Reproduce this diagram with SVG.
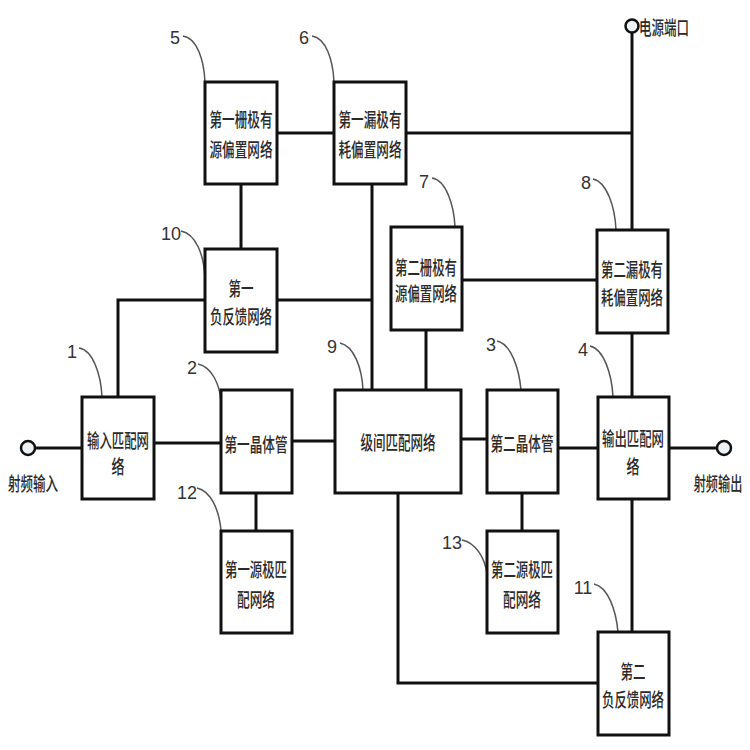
<svg xmlns="http://www.w3.org/2000/svg" width="750" height="750" viewBox="0 0 750 750">
<style>
.box{fill:#fff;stroke:#111;stroke-width:3}
.ln{fill:none;stroke:#111;stroke-width:3}
.ld{fill:none;stroke:#555;stroke-width:1.5}
.t{font-family:"Noto Sans CJK SC","Noto Sans CJK JP",sans-serif;font-size:19px;font-weight:500;fill:#2a2a2a;text-anchor:middle;dominant-baseline:central}
.n{font-family:"Liberation Sans",Arial,sans-serif;font-size:18px;fill:#333;text-anchor:middle;dominant-baseline:central}
.port{fill:#eef2f5;stroke:#111;stroke-width:2.5}
</style>
<rect width="750" height="750" fill="#fff"/>
<g id="connectors">
<path class="ln" d="M35,448 H82"/>
<path class="ln" d="M154,443 H221"/>
<path class="ln" d="M292,441 H335"/>
<path class="ln" d="M461,439 H487"/>
<path class="ln" d="M558,448 H598"/>
<path class="ln" d="M669,448 H717"/>
<path class="ln" d="M277,133 H334"/>
<path class="ln" d="M406,133 H632"/>
<path class="ln" d="M632,33 V230"/>
<path class="ln" d="M241,184 V249"/>
<path class="ln" d="M118,397 V300 H205"/>
<path class="ln" d="M277,300 H372"/>
<path class="ln" d="M372,184 V390"/>
<path class="ln" d="M462,280 H597"/>
<path class="ln" d="M426,330 V390"/>
<path class="ln" d="M632,333 V397"/>
<path class="ln" d="M256,493 V531"/>
<path class="ln" d="M522,493 V531"/>
<path class="ln" d="M398,493 V683 H598"/>
<path class="ln" d="M632,499 V632"/>
</g>
<g id="leaders">
<path class="ld" d="M183,36 C197,38 204,60 205,82"/>
<path class="ld" d="M312,36 C326,38 333,60 334,82"/>
<path class="ld" d="M432,178 C446,180 454,205 455,227"/>
<path class="ld" d="M593,179 C607,182 615,207 616,230"/>
<path class="ld" d="M181,231 C196,234 204,255 205,278"/>
<path class="ld" d="M79,348 C93,350 101,375 102,397"/>
<path class="ld" d="M198,364 C212,367 220,385 221,402"/>
<path class="ld" d="M340,343 C354,346 362,368 363,390"/>
<path class="ld" d="M497,341 C511,344 519,368 521,390"/>
<path class="ld" d="M590,346 C604,349 612,375 613,397"/>
<path class="ld" d="M197,488 C211,491 219,510 221,530"/>
<path class="ld" d="M462,540 C476,543 485,558 487,574"/>
<path class="ld" d="M594,584 C608,587 616,610 618,632"/>
</g>
<g id="labels">
<text class="n" x="175" y="38">5</text>
<text class="n" x="304" y="38">6</text>
<text class="n" x="424" y="182">7</text>
<text class="n" x="586" y="183">8</text>
<text class="n" x="171" y="234">10</text>
<text class="n" x="72" y="352">1</text>
<text class="n" x="192" y="368">2</text>
<text class="n" x="332" y="347">9</text>
<text class="n" x="491" y="345">3</text>
<text class="n" x="583" y="350">4</text>
<text class="n" x="187" y="493">12</text>
<text class="n" x="452" y="543">13</text>
<text class="n" x="583" y="588">11</text>
</g>
<g id="port-power">
<circle class="port" cx="632" cy="26" r="6.5"/>
<text class="t" transform="translate(664,27) scale(0.66,1)">电源端口</text>
</g>
<g id="port-in">
<circle class="port" cx="28" cy="448" r="7"/>
<text class="t" transform="translate(33,483) scale(0.66,1)">射频输入</text>
</g>
<g id="port-out">
<circle class="port" cx="724" cy="448" r="7"/>
<text class="t" transform="translate(718,483) scale(0.64,1)">射频输出</text>
</g>
<g id="n5">
<rect class="box" x="205" y="82" width="72" height="102"/>
<text class="t" x="241" y="118" textLength="63" lengthAdjust="spacingAndGlyphs">第一栅极有</text>
<text class="t" x="241" y="148" textLength="63" lengthAdjust="spacingAndGlyphs">源偏置网络</text>
</g>
<g id="n6">
<rect class="box" x="334" y="82" width="72" height="102"/>
<text class="t" x="370" y="118" textLength="63" lengthAdjust="spacingAndGlyphs">第一漏极有</text>
<text class="t" x="370" y="148" textLength="63" lengthAdjust="spacingAndGlyphs">耗偏置网络</text>
</g>
<g id="n7">
<rect class="box" x="391" y="227" width="71" height="103"/>
<text class="t" x="426" y="266" textLength="62" lengthAdjust="spacingAndGlyphs">第二栅极有</text>
<text class="t" x="426" y="292" textLength="62" lengthAdjust="spacingAndGlyphs">源偏置网络</text>
</g>
<g id="n8">
<rect class="box" x="597" y="230" width="71" height="103"/>
<text class="t" x="632" y="268" textLength="62" lengthAdjust="spacingAndGlyphs">第二漏极有</text>
<text class="t" x="632" y="296" textLength="62" lengthAdjust="spacingAndGlyphs">耗偏置网络</text>
</g>
<g id="n10">
<rect class="box" x="205" y="249" width="72" height="103"/>
<text class="t" x="241" y="287" textLength="25" lengthAdjust="spacingAndGlyphs">第一</text>
<text class="t" x="241" y="315" textLength="62" lengthAdjust="spacingAndGlyphs">负反馈网络</text>
</g>
<g id="n1">
<rect class="box" x="82" y="397" width="72" height="102"/>
<text class="t" x="118" y="439" textLength="62" lengthAdjust="spacingAndGlyphs">输入匹配网</text>
<text class="t" x="118" y="465" textLength="13" lengthAdjust="spacingAndGlyphs">络</text>
</g>
<g id="n2">
<rect class="box" x="221" y="390" width="71" height="103"/>
<text class="t" x="256" y="443" textLength="63" lengthAdjust="spacingAndGlyphs">第一晶体管</text>
</g>
<g id="n9">
<rect class="box" x="335" y="390" width="126" height="103"/>
<text class="t" x="398" y="441" textLength="75" lengthAdjust="spacingAndGlyphs">级间匹配网络</text>
</g>
<g id="n3">
<rect class="box" x="487" y="390" width="71" height="103"/>
<text class="t" x="522" y="442" textLength="63" lengthAdjust="spacingAndGlyphs">第二晶体管</text>
</g>
<g id="n4">
<rect class="box" x="598" y="397" width="71" height="102"/>
<text class="t" x="633" y="437" textLength="62" lengthAdjust="spacingAndGlyphs">输出匹配网</text>
<text class="t" x="633" y="465" textLength="13" lengthAdjust="spacingAndGlyphs">络</text>
</g>
<g id="n12">
<rect class="box" x="221" y="531" width="71" height="102"/>
<text class="t" x="256" y="568" textLength="62" lengthAdjust="spacingAndGlyphs">第一源极匹</text>
<text class="t" x="256" y="598" textLength="38" lengthAdjust="spacingAndGlyphs">配网络</text>
</g>
<g id="n13">
<rect class="box" x="487" y="531" width="71" height="102"/>
<text class="t" x="522" y="568" textLength="62" lengthAdjust="spacingAndGlyphs">第二源极匹</text>
<text class="t" x="522" y="598" textLength="38" lengthAdjust="spacingAndGlyphs">配网络</text>
</g>
<g id="n11">
<rect class="box" x="598" y="632" width="71" height="103"/>
<text class="t" x="633" y="670" textLength="25" lengthAdjust="spacingAndGlyphs">第二</text>
<text class="t" x="633" y="698" textLength="62" lengthAdjust="spacingAndGlyphs">负反馈网络</text>
</g>
</svg>
